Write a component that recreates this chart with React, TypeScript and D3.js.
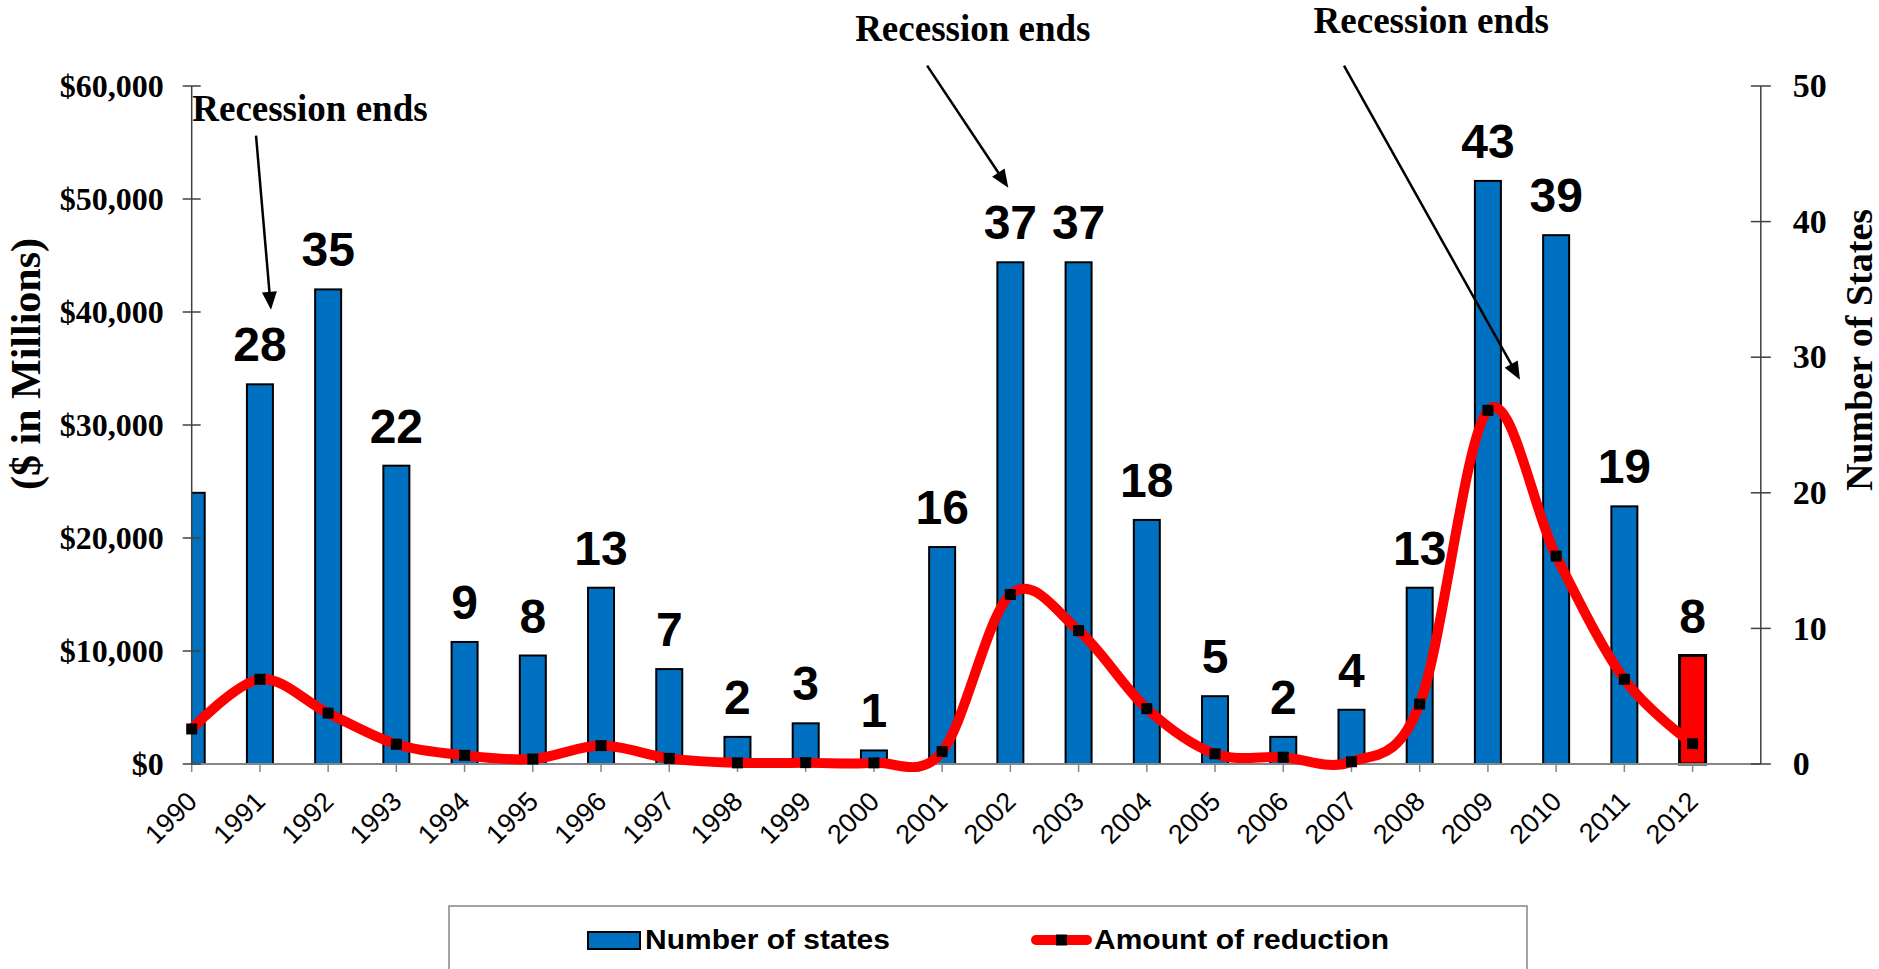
import React from 'react';
import * as d3 from 'd3';

// ---------- data ----------
const years = ['1990','1991','1992','1993','1994','1995','1996','1997','1998','1999','2000','2001','2002','2003','2004','2005','2006','2007','2008','2009','2010','2011','2012'];
const numberOfStates = [20,28,35,22,9,8,13,7,2,3,1,16,37,37,18,5,2,4,13,43,39,19,8];
const amountOfReduction = [3100,7500,4500,1750,770,440,1630,500,100,120,100,1100,15000,11800,4900,900,600,200,5300,31300,18400,7500,1800];
const dollarTicks = [0,10000,20000,30000,40000,50000,60000];
const stateTicks = [0,10,20,30,40,50];
const highlightYear = '2012';
const seriesNames = ['Number of states','Amount of reduction'];
const leftTitle = '($ in Millions)';
const rightTitle = 'Number of States';
// annotations in data space: category index and $ value
const annotationText = 'Recession ends';
const annotationLabelPos = [[1.733, 56900],[11.45, 63950],[18.17, 64650]];
const annotationArrowFrom = [[0.943, 55600],[10.78, 61800],[16.89, 61800]];
const annotationArrowTo = [[1.162, 40200],[11.97, 51000],[19.47, 34000]];

const W = 1879, H = 969;
const PL = 191.7, PR = 1760.8, PT = 86, PB = 764;
const SERIF = '"Liberation Serif","Times New Roman",serif';
const SANS = '"Liberation Sans",Arial,sans-serif';

export default function App() {
  const x = d3.scaleLinear().domain([0, years.length]).range([PL, PR]);
  const yL = d3.scaleLinear().domain([0, 60000]).range([PB, PT]);
  const yR = d3.scaleLinear().domain([0, 50]).range([PB, PT]);
  const bw = 26;

  const line = d3.line<number>()
    .x((_, i) => x(i))
    .y(d => yL(d))
    .curve(d3.curveCardinal.tension(0));
  const pathD = line(amountOfReduction) || '';

  const arrowHead = (x1: number, y1: number, x2: number, y2: number) => {
    const ang = Math.atan2(y2 - y1, x2 - x1);
    const len = 18, half = 7.5;
    const bx = x2 - len * Math.cos(ang), by = y2 - len * Math.sin(ang);
    const px = -Math.sin(ang) * half, py = Math.cos(ang) * half;
    return `M${x2},${y2}L${bx + px},${by + py}L${bx - px},${by - py}Z`;
  };

  return (
    <svg width={W} height={H} style={{ position: 'absolute', left: 0, top: 0, display: 'block', background: '#fff' }}>
      <defs>
        <clipPath id="plotClip">
          <rect x={PL} y={0} width={PR - PL} height={PB + 2} />
        </clipPath>
      </defs>

      {/* bars */}
      <g clipPath="url(#plotClip)">
        {numberOfStates.map((v, i) => {
          const hl = years[i] === highlightYear;
          return (
            <rect key={'b' + i} x={x(i) - bw / 2} y={yR(v)} width={bw} height={PB - yR(v)}
              fill={hl ? '#FF0000' : '#0070C0'} stroke="#000" strokeWidth={hl ? 3 : 2} />
          );
        })}
      </g>

      {/* bar labels */}
      {numberOfStates.map((v, i) => (x(i) - bw / 2 < PL ? null : (
        <text key={'l' + i} x={x(i)} y={yR(v) - 23} textAnchor="middle" fontFamily={SANS}
          fontWeight="bold" fontSize={48} fill="#000">{v}</text>
      )))}

      {/* x axis */}
      <line x1={PL} x2={PR} y1={PB} y2={PB} stroke="#868686" strokeWidth={2} />
      {years.map((yr, i) => (
        <g key={'xt' + i}>
          <line x1={x(i)} x2={x(i)} y1={PB} y2={PB + 8} stroke="#868686" strokeWidth={1.5} />
          <text transform={`translate(${x(i) + 7},${PB + 39}) rotate(-45)`} textAnchor="end"
            fontFamily={SANS} fontSize={27} fill="#000">{yr}</text>
        </g>
      ))}

      {/* left axis */}
      <line x1={PL} x2={PL} y1={PT} y2={PB} stroke="#404040" strokeWidth={1.5} />
      {dollarTicks.map(t => (
        <g key={'lt' + t}>
          <line x1={PL - 9} x2={PL + 9} y1={yL(t)} y2={yL(t)} stroke="#404040" strokeWidth={1.5} />
          <text x={PL - 28} y={yL(t)} dy="0.33em" textAnchor="end" fontFamily={SERIF}
            fontWeight="bold" fontSize={32} fill="#000">{d3.format('$,')(t)}</text>
        </g>
      ))}
      <text transform={`translate(40,364) rotate(-90)`} textAnchor="middle" fontFamily={SERIF}
        fontWeight="bold" fontSize={42} fill="#000">{leftTitle}</text>

      {/* right axis */}
      <line x1={PR} x2={PR} y1={PT} y2={PB} stroke="#404040" strokeWidth={1.5} />
      {stateTicks.map(t => (
        <g key={'rt' + t}>
          <line x1={PR - 10} x2={PR + 10} y1={yR(t)} y2={yR(t)} stroke="#404040" strokeWidth={1.5} />
          <text x={PR + 32} y={yR(t)} dy="0.33em" textAnchor="start" fontFamily={SERIF}
            fontWeight="bold" fontSize={34} fill="#000">{t}</text>
        </g>
      ))}
      <text transform={`translate(1872,350) rotate(-90)`} textAnchor="middle" fontFamily={SERIF}
        fontWeight="bold" fontSize={38} fill="#000">{rightTitle}</text>

      {/* reduction line */}
      <path d={pathD} fill="none" stroke="#FF0000" strokeWidth={10} strokeLinejoin="round" strokeLinecap="round" />
      {amountOfReduction.map((v, i) => (
        <rect key={'m' + i} x={x(i) - 5.5} y={yL(v) - 5.5} width={11} height={11} fill="#000" />
      ))}

      {/* annotations */}
      {annotationLabelPos.map((p, k) => {
        const [fi, fv] = annotationArrowFrom[k];
        const [ti, tv] = annotationArrowTo[k];
        const x1 = x(fi), y1 = yL(fv), x2 = x(ti), y2 = yL(tv);
        const ang = Math.atan2(y2 - y1, x2 - x1);
        return (
          <g key={'a' + k}>
            <text x={x(p[0])} y={yL(p[1])} textAnchor="middle" fontFamily={SERIF} fontWeight="bold"
              fontSize={37} fill="#000">{annotationText}</text>
            <line x1={x1} y1={y1} x2={x2 - 14 * Math.cos(ang)} y2={y2 - 14 * Math.sin(ang)}
              stroke="#000" strokeWidth={2.5} />
            <path d={arrowHead(x1, y1, x2, y2)} fill="#000" />
          </g>
        );
      })}

      {/* legend */}
      <rect x={449} y={906} width={1078} height={100} fill="#fff" stroke="#868686" strokeWidth={1.5} />
      <rect x={588} y={932} width={52} height={17} fill="#0070C0" stroke="#000" strokeWidth={2} />
      <text x={645} y={949} fontFamily={SANS} fontWeight="bold" fontSize={27} textLength={245}
        lengthAdjust="spacingAndGlyphs" fill="#000">{seriesNames[0]}</text>
      <line x1={1036} x2={1087} y1={940} y2={940} stroke="#FF0000" strokeWidth={10} strokeLinecap="round" />
      <rect x={1056} y={934.5} width={11} height={11} fill="#000" />
      <text x={1094} y={949} fontFamily={SANS} fontWeight="bold" fontSize={27} textLength={295}
        lengthAdjust="spacingAndGlyphs" fill="#000">{seriesNames[1]}</text>
    </svg>
  );
}
